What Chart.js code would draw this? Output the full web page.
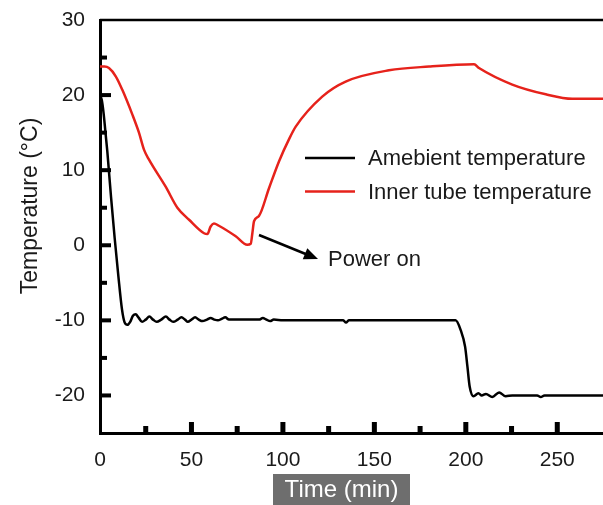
<!DOCTYPE html>
<html>
<head>
<meta charset="utf-8">
<script src="https://cdn.jsdelivr.net/npm/chart.js@4.4.1/dist/chart.umd.min.js"></script>
<style>
  html, body { margin: 0; padding: 0; background: #fff; }
  #wrap { width: 603px; height: 505px; }
</style>
</head>
<body>
<div id="wrap"><canvas id="tempChart" width="603" height="505"></canvas></div>
<script>
// ambient (chamber) temperature
const tAmb = [0, 1, 2, 3, 4, 6, 8, 10, 12, 13.5, 15, 16.5, 18, 19.5, 21, 23, 25, 27, 29, 31, 33.5, 36, 38, 40,
  42.5, 44.5, 46.5, 48, 50, 52, 54, 56, 58.5, 60.5, 62.5, 64.5, 66.5, 68.5, 70.5, 80, 87, 89, 91, 93, 95, 100,
  133, 134.5, 136, 194.4, 197.2, 199.6, 200.9, 202.1, 204.2, 206.9, 208.7, 211, 214.5, 218.2, 221.8, 225.4,
  239, 241, 243, 275];
const vAmb = [20, 19.3, 17.5, 15, 12.5, 6.5, 1, -4, -8.5, -10.3, -10.6, -10.2, -9.4, -9.2, -9.6, -10.2, -9.9, -9.5, -9.9, -10.2, -9.9, -9.5, -9.9, -10.2,
  -9.9, -9.6, -9.9, -10.2, -9.9, -9.6, -9.9, -10.1, -9.9, -9.7, -9.9, -10.0, -9.8, -9.6, -9.9, -9.9, -9.9, -9.7, -9.9, -10.1, -9.9, -10,
  -10, -10.3, -10, -10, -11.3, -13.5, -16.2, -18.8, -20.1, -19.7, -20, -19.8, -20.2, -19.6, -20.1, -20,
  -20, -20.2, -20, -20];

// inner tube temperature
const tInner = [0, 2.5, 4.9, 8.6, 12.2, 17.7, 21.3, 24.1, 26.8, 35.9, 42.3, 48.7, 56.9, 58.7, 60.5, 62.3, 65,
  74.2, 80.5, 82.4, 83.3, 84.2, 86.9, 92.4, 97.9, 103.3, 107, 121.5, 134.3, 158, 179.9, 204.5, 207.2,
  225.4, 243.7, 258.2, 275];
const vInner = [23.8, 23.8, 23.6, 22.5, 20.7, 17.4, 15, 12.7, 11.4, 7.8, 5.0, 3.4, 1.6, 1.5, 2.5, 2.9, 2.6,
  1.2, 0.07, 0.2, 1.6, 3.2, 3.9, 7.6, 11.2, 14.1, 15.8, 19.8, 21.8, 23.3, 23.8, 24.1, 23.6,
  21.4, 20.1, 19.5, 19.5];

const seriesNames = ["Amebient temperature", "Inner tube temperature"];
const seriesColors = ["#000000", "#e6221b"];
const xTicks = [0, 50, 100, 150, 200, 250];
const yTicks = [-20, -10, 0, 10, 20, 30];

const FONT = "'Liberation Sans', Arial, sans-serif";

function toPoints(xs, ys) {
  return xs.map((x, i) => ({ x: x, y: ys[i] }));
}

const decor = {
  id: "decor",
  afterDraw(chart) {
    const ctx = chart.ctx;
    const area = chart.chartArea;
    const xs = chart.scales.x;
    const ys = chart.scales.y;
    ctx.save();

    // top frame line
    ctx.strokeStyle = "#000";
    ctx.lineWidth = 2.5;
    ctx.beginPath();
    ctx.moveTo(area.left, area.top);
    ctx.lineTo(area.right, area.top);
    ctx.stroke();

    // inward ticks, majors every 10 / 50, minors between
    ctx.fillStyle = "#000";
    for (let v = -20; v <= 25; v += 5) {
      const py = ys.getPixelForValue(v);
      const len = v % 10 === 0 ? 11 : 7;
      ctx.fillRect(area.left, py - 2, len, 4);
    }
    for (let t = 25; t <= 250; t += 25) {
      const px = xs.getPixelForValue(t);
      const len = t % 50 === 0 ? 11 : 7;
      ctx.fillRect(px - 2.5, area.bottom - len, 5, len);
    }

    // y title
    ctx.fillStyle = "#1a1a1a";
    ctx.font = "23px " + FONT;
    ctx.textAlign = "center";
    ctx.textBaseline = "middle";
    ctx.save();
    ctx.translate(31, 206);
    ctx.rotate(-Math.PI / 2);
    ctx.fillText("Temperature (\u00B0C)", 0, 0);
    ctx.restore();

    // x title on grey box
    ctx.fillStyle = "#6e6e6e";
    ctx.fillRect(273, 474, 137, 31);
    ctx.fillStyle = "#ffffff";
    ctx.font = "24px " + FONT;
    ctx.fillText("Time (min)", 341.5, 490);

    // legend
    ctx.font = "22px " + FONT;
    ctx.textAlign = "left";
    const legY = [158, 191.5];
    seriesNames.forEach((name, i) => {
      ctx.strokeStyle = seriesColors[i];
      ctx.lineWidth = 2.5;
      ctx.beginPath();
      ctx.moveTo(305, legY[i]);
      ctx.lineTo(355, legY[i]);
      ctx.stroke();
      ctx.fillStyle = "#1a1a1a";
      ctx.fillText(name, 368, legY[i] + 1);
    });

    // arrow + annotation
    const x1 = 259, y1 = 235, x2 = 318, y2 = 259;
    const ang = Math.atan2(y2 - y1, x2 - x1);
    ctx.strokeStyle = "#000";
    ctx.lineWidth = 2.5;
    ctx.beginPath();
    ctx.moveTo(x1, y1);
    ctx.lineTo(x2 - 8 * Math.cos(ang), y2 - 8 * Math.sin(ang));
    ctx.stroke();
    ctx.fillStyle = "#000";
    ctx.beginPath();
    ctx.moveTo(x2, y2);
    ctx.lineTo(x2 - 14 * Math.cos(ang) + 6 * Math.sin(ang), y2 - 14 * Math.sin(ang) - 6 * Math.cos(ang));
    ctx.lineTo(x2 - 14 * Math.cos(ang) - 6 * Math.sin(ang), y2 - 14 * Math.sin(ang) + 6 * Math.cos(ang));
    ctx.closePath();
    ctx.fill();
    ctx.fillStyle = "#1a1a1a";
    ctx.fillText("Power on", 328, 260);

    ctx.restore();
  }
};

const ctx = document.getElementById("tempChart").getContext("2d");

new Chart(ctx, {
  type: "line",
  data: {
    datasets: [
      {
        label: seriesNames[0],
        data: toPoints(tAmb, vAmb),
        borderColor: seriesColors[0],
        borderWidth: 2.5,
        pointRadius: 0,
        cubicInterpolationMode: "monotone",
      },
      {
        label: seriesNames[1],
        data: toPoints(tInner, vInner),
        borderColor: seriesColors[1],
        borderWidth: 2.5,
        pointRadius: 0,
        cubicInterpolationMode: "monotone",
      },
    ],
  },
  options: {
    responsive: false,
    animation: false,
    layout: { padding: { top: 20, right: 0, left: 0, bottom: 0 } },
    plugins: {
      legend: { display: false },
      tooltip: { enabled: false },
    },
    scales: {
      x: {
        type: "linear",
        min: 0,
        max: 275,
        afterBuildTicks: (scale) => {
          scale.ticks = xTicks.map((v) => ({ value: v }));
        },
        afterFit: (scale) => {
          scale.height = 72;
          scale.paddingLeft = 0;
          scale.paddingRight = 0;
        },
        grid: { display: false, drawTicks: false },
        border: { display: true, color: "#000", width: 3 },
        ticks: {
          padding: 15,
          color: "#1a1a1a",
          maxRotation: 0,
          font: { size: 21, family: FONT },
        },
      },
      y: {
        min: -25,
        max: 30,
        afterBuildTicks: (scale) => {
          scale.ticks = yTicks.map((v) => ({ value: v }));
        },
        afterFit: (scale) => {
          scale.width = 100;
          scale.paddingTop = 0;
          scale.paddingBottom = 0;
        },
        grid: { display: false, drawTicks: false },
        border: { display: true, color: "#000", width: 3 },
        ticks: {
          padding: 15,
          color: "#1a1a1a",
          font: { size: 21, family: FONT },
        },
      },
    },
  },
  plugins: [decor],
});
</script>
</body>
</html>
